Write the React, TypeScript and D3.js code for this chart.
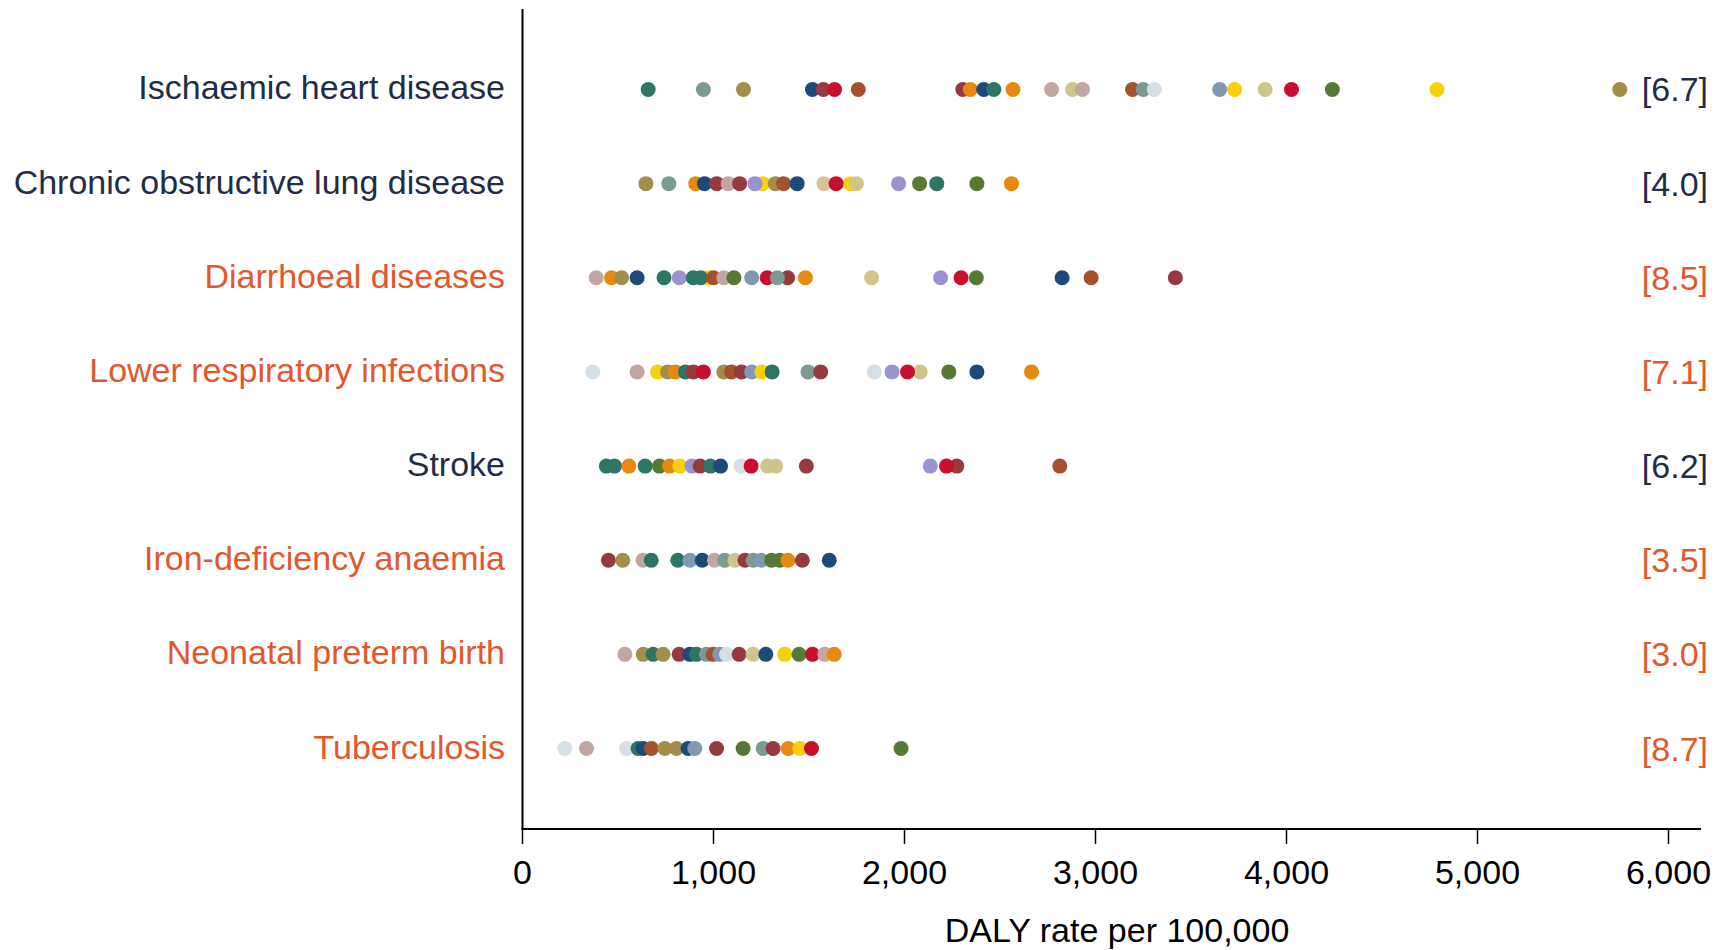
import React from "react";
import { scaleLinear, scalePoint } from "d3";

// disease rows, top to bottom
const diseases = [
  "Ischaemic heart disease",
  "Chronic obstructive lung disease",
  "Diarrhoeal diseases",
  "Lower respiratory infections",
  "Stroke",
  "Iron-deficiency anaemia",
  "Neonatal preterm birth",
  "Tuberculosis",
];

// max/min ratio shown at the right of each row
const ratios = ["[6.7]", "[4.0]", "[8.5]", "[7.1]", "[6.2]", "[3.5]", "[3.0]", "[8.7]"];

// which rows are non-communicable (navy) vs communicable etc (orange)
const groups = ["ncd", "ncd", "cmnn", "cmnn", "ncd", "cmnn", "cmnn", "cmnn"];

const xTicks = [0, 1000, 2000, 3000, 4000, 5000, 6000];

// colour for each state group
const palette: Record<string, string> = {
  teal: "#2d7565",
  grayTeal: "#7b9b92",
  olive: "#a28e4b",
  navy: "#1c4a7b",
  crimson: "#c8102e",
  rust: "#a5522c",
  maroon: "#973a40",
  orange: "#e7890f",
  taupe: "#c3a5a2",
  khaki: "#cec58b",
  light: "#d5e0e6",
  grayBlue: "#7f99b5",
  yellow: "#f6d00a",
  green: "#577a32",
  lavender: "#9a93d1",
  tan: "#d6c39c",
};

// DALY rate per 100,000 per state, [value, colour group]
const ihd: [number, string][] = [
  [658, "teal"], [947, "grayTeal"], [1157, "olive"], [1518, "navy"], [1575, "maroon"],
  [1634, "crimson"], [1758, "rust"], [2305, "maroon"], [2345, "orange"], [2415, "navy"],
  [2468, "teal"], [2568, "orange"], [2770, "taupe"], [2880, "khaki"], [2932, "taupe"],
  [3194, "rust"], [3250, "grayTeal"], [3308, "light"], [3650, "grayBlue"], [3728, "yellow"],
  [3888, "khaki"], [4026, "crimson"], [4240, "green"], [4788, "yellow"], [5745, "olive"],
];

const copd: [number, string][] = [
  [646, "olive"], [766, "grayTeal"], [907, "orange"], [953, "navy"], [1017, "maroon"],
  [1077, "taupe"], [1137, "maroon"], [1257, "yellow"], [1217, "lavender"], [1324, "olive"],
  [1367, "rust"], [1438, "navy"], [1578, "tan"], [1718, "yellow"], [1748, "khaki"],
  [1642, "crimson"], [1969, "lavender"], [2079, "green"], [2169, "teal"], [2379, "green"],
  [2560, "orange"],
];

const diarrhoea: [number, string][] = [
  [386, "taupe"], [466, "orange"], [519, "olive"], [600, "navy"], [741, "teal"],
  [821, "lavender"], [894, "teal"], [974, "yellow"], [933, "teal"], [1000, "rust"],
  [1054, "taupe"], [1107, "green"], [1200, "grayBlue"], [1281, "crimson"], [1388, "maroon"],
  [1334, "grayTeal"], [1481, "orange"], [1828, "khaki"], [2189, "lavender"], [2296, "crimson"],
  [2376, "green"], [2825, "navy"], [2977, "rust"], [3418, "maroon"],
];

const lri: [number, string][] = [
  [368, "light"], [600, "taupe"], [707, "yellow"], [760, "olive"], [800, "orange"],
  [853, "teal"], [894, "maroon"], [947, "crimson"], [1054, "olive"], [1094, "rust"],
  [1147, "maroon"], [1200, "grayBlue"], [1254, "yellow"], [1307, "teal"], [1495, "grayTeal"],
  [1561, "maroon"], [1842, "light"], [1935, "lavender"], [2082, "khaki"], [2016, "crimson"],
  [2232, "green"], [2379, "navy"], [2665, "orange"],
];

const stroke: [number, string][] = [
  [439, "teal"], [482, "teal"], [557, "orange"], [642, "teal"], [717, "green"],
  [770, "orange"], [824, "yellow"], [887, "lavender"], [930, "maroon"], [984, "teal"],
  [1037, "navy"], [1144, "light"], [1197, "crimson"], [1283, "khaki"], [1326, "khaki"],
  [1486, "maroon"], [2135, "lavender"], [2274, "maroon"], [2220, "crimson"], [2813, "rust"],
];

const iron: [number, string][] = [
  [450, "maroon"], [525, "olive"], [631, "taupe"], [674, "teal"], [813, "teal"],
  [877, "grayBlue"], [941, "navy"], [1005, "taupe"], [1059, "grayTeal"], [1112, "khaki"],
  [1165, "maroon"], [1208, "grayTeal"], [1251, "grayBlue"], [1304, "green"], [1347, "green"],
  [1390, "orange"], [1465, "maroon"], [1606, "navy"],
];

const preterm: [number, string][] = [
  [536, "taupe"], [632, "olive"], [684, "teal"], [736, "olive"], [820, "maroon"],
  [876, "navy"], [911, "teal"], [963, "grayTeal"], [998, "rust"], [1033, "grayBlue"],
  [1068, "light"], [1134, "maroon"], [1207, "khaki"], [1274, "navy"], [1373, "yellow"],
  [1448, "green"], [1518, "crimson"], [1583, "taupe"], [1632, "orange"],
];

const tb: [number, string][] = [
  [221, "light"], [335, "taupe"], [545, "light"], [605, "teal"], [632, "navy"],
  [675, "rust"], [745, "olive"], [806, "olive"], [867, "navy"], [902, "grayBlue"],
  [1016, "maroon"], [1155, "green"], [1260, "grayTeal"], [1312, "maroon"], [1391, "orange"],
  [1452, "yellow"], [1513, "crimson"], [1982, "green"],
];

const rows = [ihd, copd, diarrhoea, lri, stroke, iron, preterm, tb];

const labelColors: Record<string, string> = { ncd: "#1f2d47", cmnn: "#e3572a" };

export default function App() {
  const width = 1729;
  const height = 950;
  const left = 522.5;
  const top = 9;
  const bottom = 829;
  const axisEnd = 1701;
  const font = "'Liberation Sans', Arial, Helvetica, sans-serif";
  const fs = 34;

  const x = scaleLinear().domain([0, 6000]).range([left, 1668.5]);
  const y = scalePoint<string>()
    .domain(diseases)
    .range([top, bottom])
    .padding(0.855);

  return (
    <svg
      width={width}
      height={height}
      style={{ position: "absolute", left: 0, top: 0, background: "#fff" }}
      fontFamily={font}
    >
      {/* y axis line */}
      <line x1={left} x2={left} y1={top} y2={bottom} stroke="#000" strokeWidth={2} />
      {/* x axis */}
      <line x1={left - 1} x2={axisEnd} y1={bottom} y2={bottom} stroke="#000" strokeWidth={2} />
      {xTicks.map(t => (
        <g key={t} transform={`translate(${x(t)},${bottom})`}>
          <line y1={0} y2={15} stroke="#000" strokeWidth={1.5} />
          <text y={55} textAnchor="middle" fontSize={fs} fill="#000">
            {t.toLocaleString("en-US")}
          </text>
        </g>
      ))}
      <text x={1117} y={942} textAnchor="middle" fontSize={fs} fill="#000">
        DALY rate per 100,000
      </text>

      {diseases.map((d, i) => {
        const cy = y(d)!;
        const col = labelColors[groups[i]];
        return (
          <g key={d}>
            <text x={505} y={cy + 10} textAnchor="end" fontSize={fs} fill={col}>
              {d}
            </text>
            {rows[i].map(([v, c], j) => (
              <circle key={j} cx={x(v)} cy={cy} r={7.5} fill={palette[c]} />
            ))}
            <text x={1708} y={cy + 12} textAnchor="end" fontSize={fs} fill={col}>
              {ratios[i]}
            </text>
          </g>
        );
      })}
    </svg>
  );
}
